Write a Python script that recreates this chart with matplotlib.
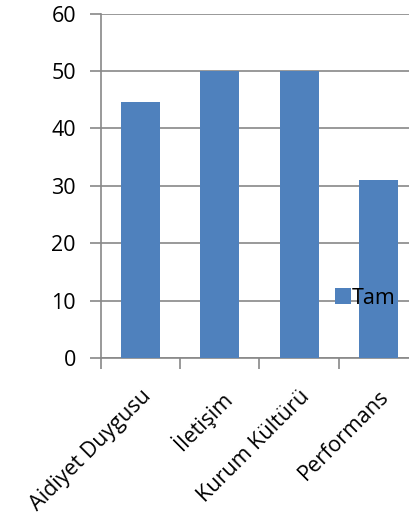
import numpy as np
import matplotlib.pyplot as plt
from matplotlib.patches import Patch

# Veri
categories = ['Aidiyet Duygusu', 'İletişim', 'Kurum Kültürü', 'Performans']
values = [44.6, 50, 50, 31]
series_name = 'Tam'
y_ticks = [0, 10, 20, 30, 40, 50, 60]

plt.rcParams['font.family'] = ['Open Sans', 'DejaVu Sans']

fig = plt.figure(figsize=(4.10, 5.26), dpi=100)
# eksen sağ kenarı figürün dışına taşıyor (orijinaldeki gibi)
ax = fig.add_axes([101 / 410, 1 - 358 / 526, 317 / 410, 344.5 / 526])

x = np.arange(len(categories))
ax.bar(x, values, width=0.49, color='#4F81BD', zorder=3)

ax.set_xlim(-0.5, len(categories) - 0.5)
ax.set_ylim(0, 60)
ax.set_yticks(y_ticks)
ax.yaxis.grid(True, color='#888888', linewidth=1.2, zorder=0)

# x ekseni: kategori sınırlarında tik, etiketler ortada
ax.set_xticks(np.arange(len(categories) + 1) - 0.5)
ax.set_xticklabels([])
ax.set_xticks(x, minor=True)
ax.set_xticklabels(categories, minor=True, rotation=45, ha='right',
                   rotation_mode='anchor', fontsize=15.5)
ax.tick_params(axis='x', which='minor', length=0, pad=20)
ax.tick_params(axis='x', which='major', length=8, color='#888888', width=1.2)
ax.tick_params(axis='y', length=8, color='#888888', width=1.2, labelsize=15.5, pad=10)

for side in ['top', 'right']:
    ax.spines[side].set_visible(False)
for side in ['left', 'bottom']:
    ax.spines[side].set_color('#888888')
    ax.spines[side].set_linewidth(1.2)

handle = Patch(facecolor='#4F81BD', edgecolor='none')
leg = ax.legend([handle], [series_name], loc='center left',
                bbox_to_anchor=(0.738, 0.174), frameon=False, fontsize=15.5,
                handlelength=0.75, handleheight=0.75, handletextpad=0.05,
                borderpad=0, borderaxespad=0)

fig.savefig('out.png', dpi=100)
